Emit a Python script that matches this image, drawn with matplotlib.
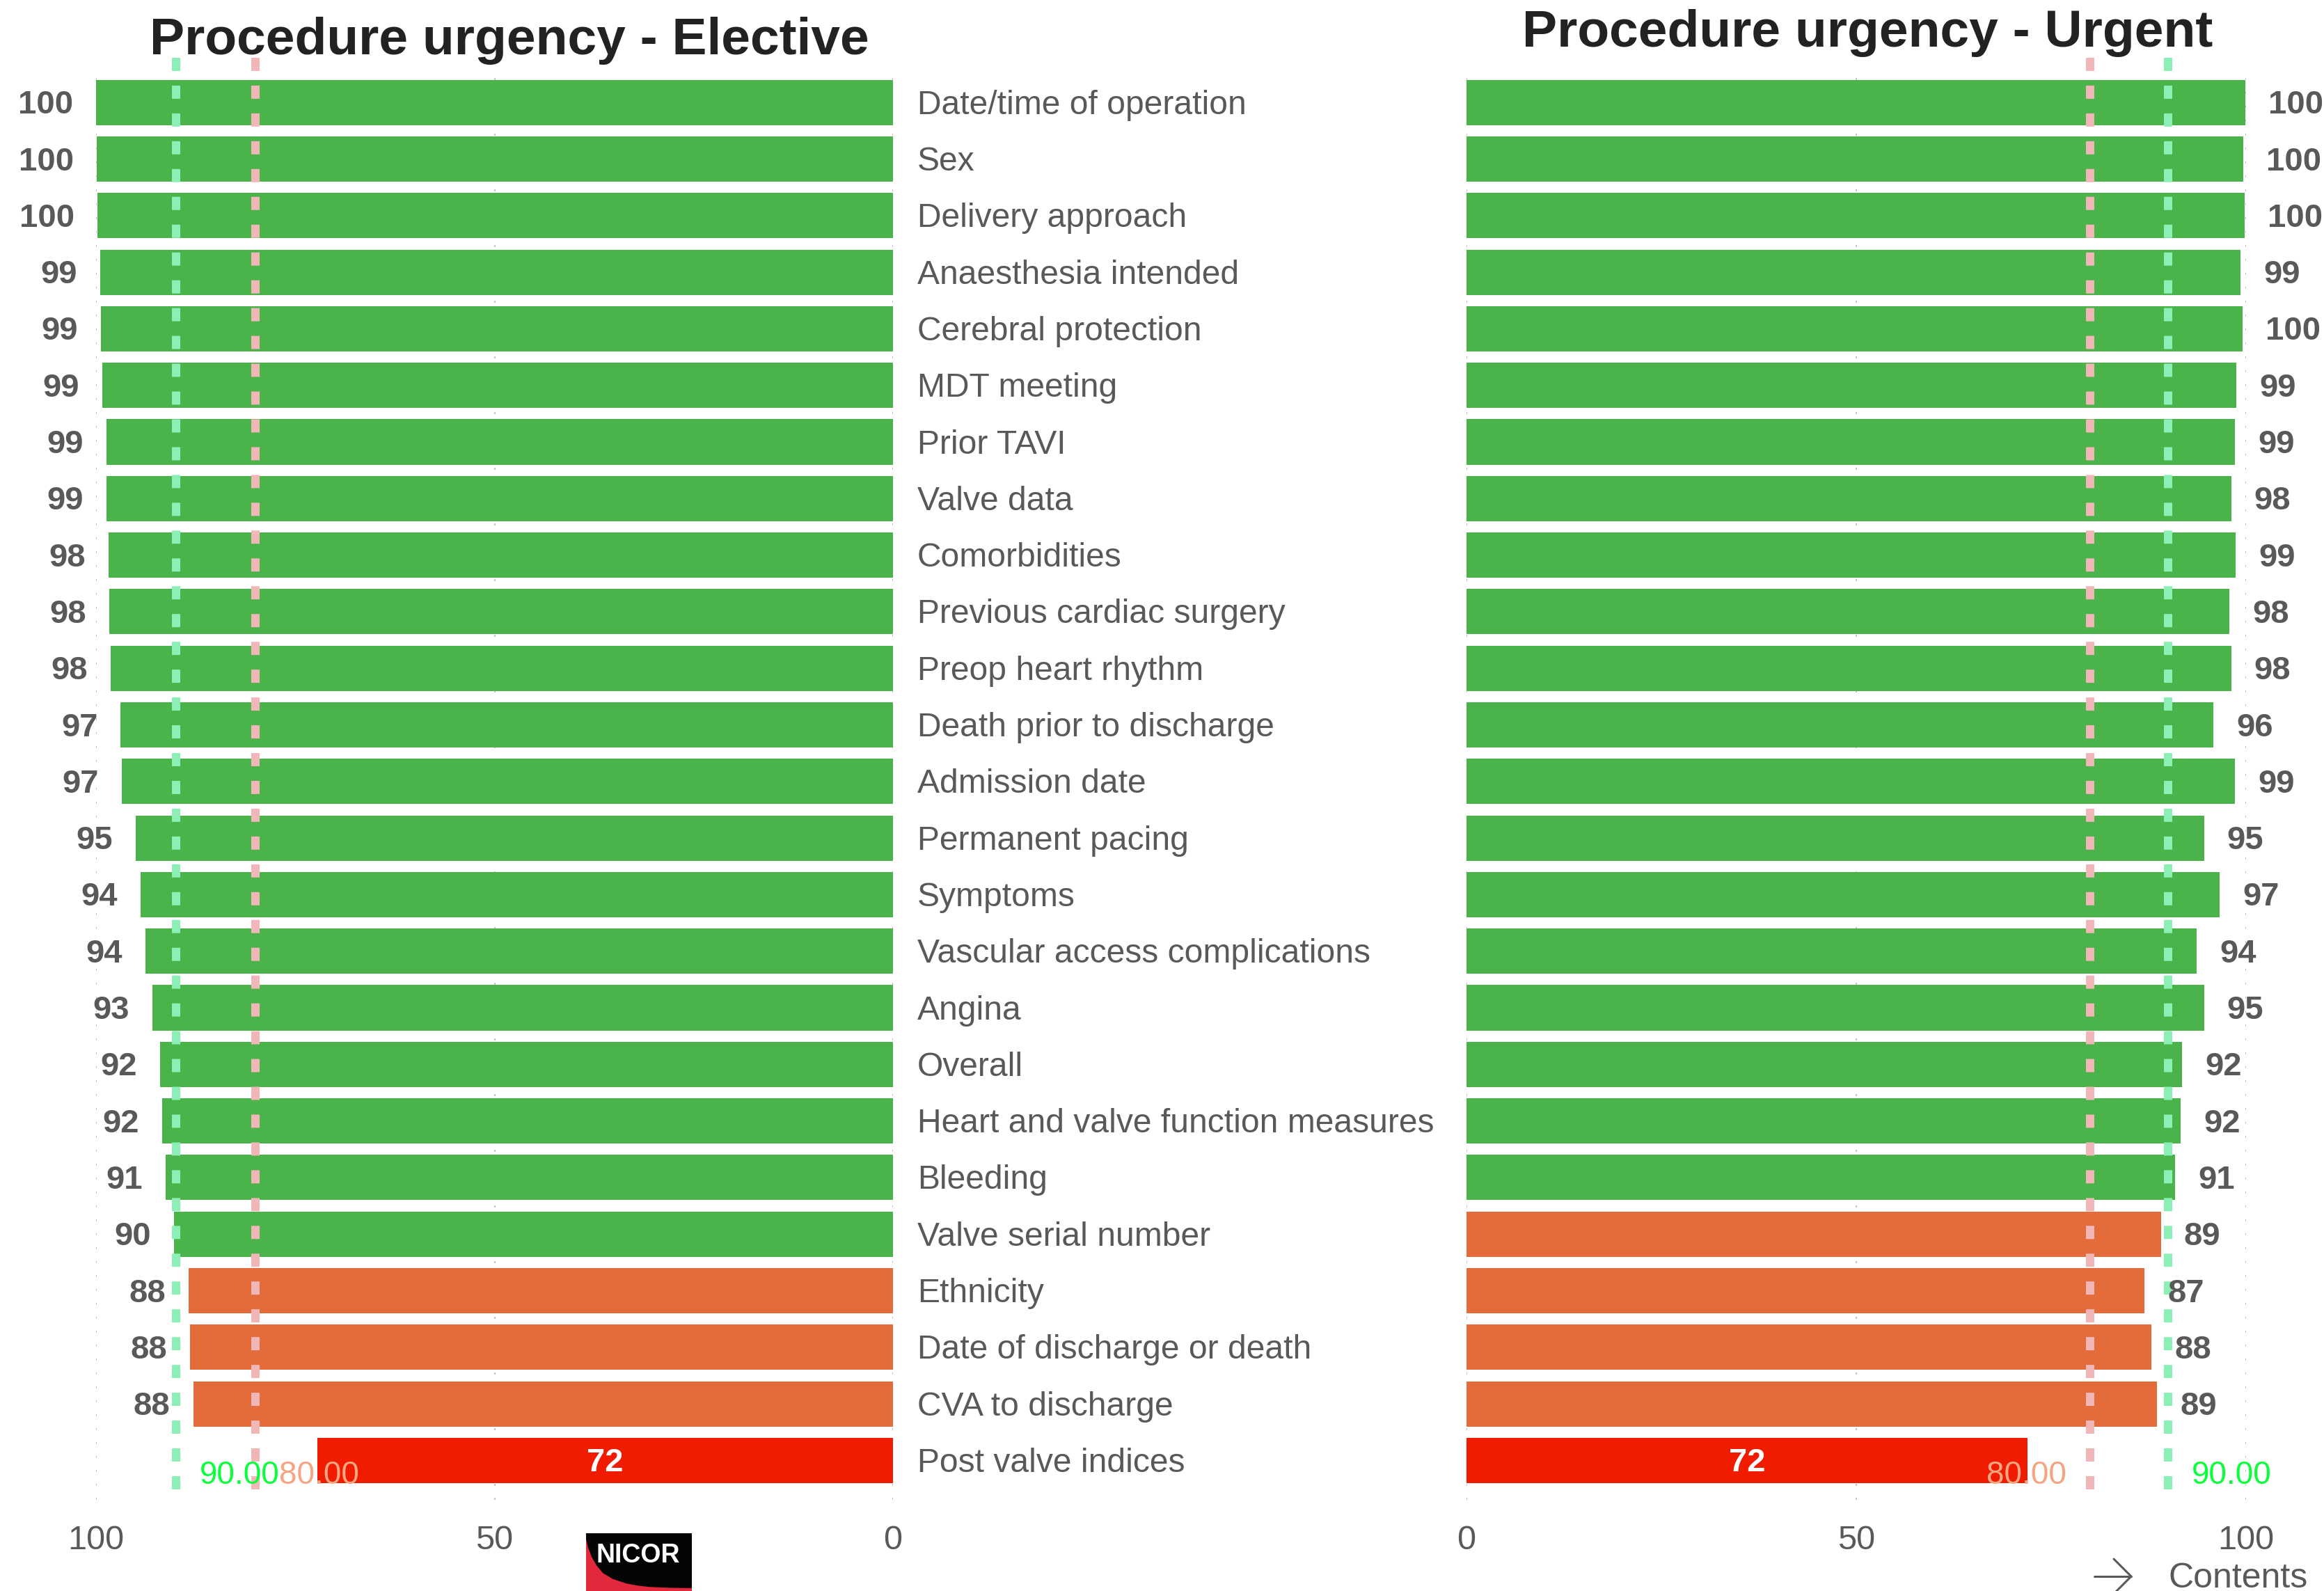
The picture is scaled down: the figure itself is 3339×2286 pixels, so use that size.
import matplotlib
matplotlib.use("Agg")
import matplotlib.pyplot as plt
from matplotlib.transforms import blended_transform_factory
from matplotlib.patches import Rectangle, Polygon
from matplotlib.lines import Line2D

plt.rcParams['font.family'] = ['Liberation Sans', 'DejaVu Sans']

# ---- data -------------------------------------------------------------
categories = [
    "Date/time of operation", "Sex", "Delivery approach", "Anaesthesia intended",
    "Cerebral protection", "MDT meeting", "Prior TAVI", "Valve data",
    "Comorbidities", "Previous cardiac surgery", "Preop heart rhythm",
    "Death prior to discharge", "Admission date", "Permanent pacing", "Symptoms",
    "Vascular access complications", "Angina", "Overall",
    "Heart and valve function measures", "Bleeding", "Valve serial number",
    "Ethnicity", "Date of discharge or death", "CVA to discharge",
    "Post valve indices",
]
elective = [100.0, 99.9, 99.8, 99.45, 99.4, 99.2, 98.7, 98.7, 98.4, 98.3, 98.2,
            96.9, 96.8, 95.0, 94.4, 93.8, 92.9, 92.0, 91.7, 91.3, 90.2,
            88.4, 88.2, 87.8, 72.2]
urgent = [99.9, 99.6, 99.8, 99.3, 99.52, 98.75, 98.6, 98.1, 98.7, 97.9, 98.1,
          95.8, 98.6, 94.6, 96.6, 93.7, 94.6, 91.8, 91.6, 90.9, 89.1,
          87.0, 87.9, 88.6, 72.0]
target_level = 90
minimum_level = 80
x_ticks = [0, 50, 100]
titles = ["Procedure urgency - Elective", "Procedure urgency - Urgent"]

# ---- styling ----------------------------------------------------------
GREEN, ORANGE, RED = "#4AB34A", "#E46C3A", "#F01C00"
TXT = "#595959"
TARGET_LINE, MIN_LINE = "#8CF0B6", "#F0B6B8"
TARGET_TXT, MIN_TXT = "#0AFF3A", "#F4A582"


def bar_colour(v):
    if v >= target_level:
        return GREEN
    if v >= minimum_level:
        return ORANGE
    return RED


W, H, DPI = 3339, 2286, 200
fig = plt.figure(figsize=(W / DPI, H / DPI), dpi=DPI)


def fx(px):
    return px / W


def fy(py):
    return 1 - py / H


AX_TOP, AX_BOT = 96, 2155
ROW_PX = 81.3
Y_TOP = -0.63
Y_BOT = Y_TOP + (AX_BOT - AX_TOP) / ROW_PX


def py_to_row(py):
    return Y_TOP + (py - AX_TOP) / ROW_PX


axL = fig.add_axes([fx(138), fy(AX_BOT), fx(1283) - fx(138), (AX_BOT - AX_TOP) / H])
axR = fig.add_axes([fx(2107), fy(AX_BOT), fx(3227) - fx(2107), (AX_BOT - AX_TOP) / H])

rows = list(range(len(categories)))
px_pt = 72 / DPI  # one pixel in points
TEXT_DROP = 4 * px_pt  # nudge row labels down onto the bar centre


def draw_panel(ax, values, side):
    colours = [bar_colour(v) for v in values]
    ax.barh(rows, values, height=0.8, color=colours, zorder=2)
    ax.set_ylim(Y_BOT, Y_TOP)
    if side == "left":
        ax.set_xlim(100, 0)
    else:
        ax.set_xlim(0, 100)
    ax.set_yticks([])
    ax.set_xticks(x_ticks)
    ax.tick_params(axis="x", length=0, pad=13, labelsize=17.5, labelcolor=TXT)
    for s in ax.spines.values():
        s.set_visible(False)
    ax.set_axisbelow(True)
    ax.grid(axis="x", color="#c4c4c4", linestyle=(0, (1.5, 8.5)), linewidth=0.72, zorder=0)

    sign = -1 if side == "left" else 1
    for i, v in enumerate(values):
        if v < minimum_level:
            ax.annotate(f"{v:.0f}", xy=(v / 2, i), xytext=(0, -TEXT_DROP),
                        textcoords="offset points", ha="center", va="center",
                        fontsize=17, fontweight="bold", color="white", zorder=4)
        else:
            ax.annotate(f"{v:.0f}", xy=(v, i), xytext=(sign * 33 * px_pt, -TEXT_DROP),
                        textcoords="offset points",
                        ha="right" if side == "left" else "left", va="center",
                        fontsize=17, fontweight="bold", color=TXT, zorder=4)

    # reference levels
    y0, y1 = py_to_row(83), py_to_row(2144)
    for lvl, col in ((target_level, TARGET_LINE), (minimum_level, MIN_LINE)):
        ax.plot([lvl, lvl], [y0, y1], color=col, linewidth=12 * px_pt,
                linestyle=(0, (1.58, 1.75)), solid_capstyle="butt",
                dash_capstyle="butt", clip_on=False, zorder=3)

    ylab = py_to_row(2120)
    if side == "left":
        placements = [(target_level, TARGET_TXT, "left"),
                      (minimum_level, MIN_TXT, "left")]
    else:
        placements = [(target_level, TARGET_TXT, "left"),
                      (minimum_level, MIN_TXT, "right")]
    for lvl, col, ha in placements:
        dx = 34 * px_pt * (1 if ha == "left" else -1)
        ax.annotate(f"{lvl:.2f}", xy=(lvl, ylab), xytext=(dx, 0),
                    textcoords="offset points", ha=ha, va="center",
                    fontsize=16.5, color=col, zorder=4, annotation_clip=False)


draw_panel(axL, elective, "left")
draw_panel(axR, urgent, "right")

# category names between the panels
tr = blended_transform_factory(fig.transFigure, axL.transData)
for i, name in enumerate(categories):
    axL.annotate(name, xy=(fx(1318), i), xycoords=tr, xytext=(0, -TEXT_DROP),
                 textcoords="offset points", ha="left", va="center",
                 fontsize=17.3, color=TXT, annotation_clip=False)

# panel titles
fig.text(fx(732), fy(78), titles[0], ha="center", va="baseline",
         fontsize=27, fontweight="bold", color="#222222")
fig.text(fx(2683), fy(67), titles[1], ha="center", va="baseline",
         fontsize=27, fontweight="bold", color="#222222")

# NICOR logo
lx0, lx1, ly0, ly1 = 842, 994, 2203, 2286
axLogo = fig.add_axes([fx(lx0), fy(ly1), (lx1 - lx0) / W, (ly1 - ly0) / H])
axLogo.set_xlim(0, 1)
axLogo.set_ylim(0, 1)
axLogo.axis("off")
axLogo.add_patch(Rectangle((0, 0), 1, 1, facecolor="#050505", edgecolor="none"))
curve = [(0, 0.9), (0.02, 0.75), (0.053, 0.59), (0.1, 0.44), (0.16, 0.31),
         (0.25, 0.21), (0.38, 0.13), (0.5, 0.09), (0.6, 0.07), (0.8, 0.055),
         (1.0, 0.05), (1.0, 0.0), (0.0, 0.0)]
axLogo.add_patch(Polygon(curve, closed=True, facecolor="#E3283E", edgecolor="none"))
axLogo.text(0.89, 0.62, "NICOR", ha="right", va="center", color="white",
            fontsize=13.5, fontweight="bold")

# contents link
ac = dict(color=TXT, linewidth=3 * px_pt, transform=fig.transFigure,
          solid_capstyle="round")
fig.add_artist(Line2D([fx(3009), fx(3062)], [fy(2265), fy(2265)], **ac))
fig.add_artist(Line2D([fx(3037), fx(3062), fx(3037)],
                      [fy(2240), fy(2265), fy(2290)], **ac))
fig.text(fx(3116), fy(2268), "Contents", ha="left", va="center",
         fontsize=18, color=TXT)

fig.savefig("out.png", dpi=DPI, facecolor="white")
